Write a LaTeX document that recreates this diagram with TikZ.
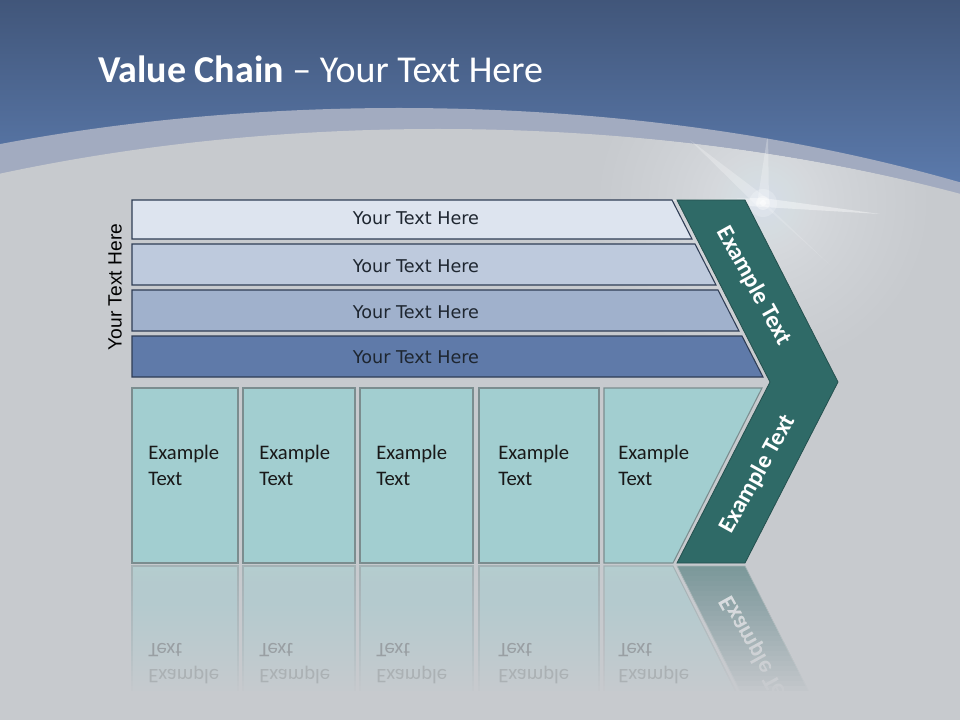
\documentclass[tikz,border=0pt]{standalone}
\usepackage{fontspec}
\setmainfont{Carlito}
\newfontfamily\djv{DejaVu Sans}
\newfontfamily\lib{Liberation Sans}
\definecolor{bgGrey}{HTML}{C7CACE}
\definecolor{blueTop}{HTML}{41567A}
\definecolor{blueBot}{HTML}{5D7DB0}
\definecolor{band}{HTML}{A2ABC0}
\definecolor{barA}{HTML}{DDE4EF}
\definecolor{barB}{HTML}{BECADD}
\definecolor{barC}{HTML}{A0B1CC}
\definecolor{barD}{HTML}{5F7AA9}
\definecolor{barline}{HTML}{2F3D55}
\definecolor{boxfill}{HTML}{A2CED0}
\definecolor{boxline}{HTML}{7B8D8F}
\definecolor{chev}{HTML}{2F6A67}
\definecolor{chevline}{HTML}{24504E}
\definecolor{reflbox}{HTML}{B4CED0}
\definecolor{reflline}{HTML}{A3B2B4}
\definecolor{reflchev}{HTML}{799898}
\definecolor{txtdark}{HTML}{1E2630}
\definecolor{refltA}{HTML}{999FA3}
\definecolor{refltB}{HTML}{ABB1B4}
\definecolor{glow}{HTML}{EEF5FF}
\tikzset{
  barshape/.style={draw=barline, line width=0.8pt},
  boxshape/.style={draw=boxline, line width=0.8pt, fill=boxfill},
  reflshape/.style={draw=reflline, line width=0.8pt, fill=reflbox},
  bartext/.style={anchor=base, inner sep=0, text=txtdark, font=\djv\fontsize{13.2}{16}\selectfont},
  boxtext/.style={anchor=base west, inner sep=0, align=left, text width=56pt, text=black!90, font=\fontsize{15.5}{19.5}\selectfont},
  chevtext/.style={inner sep=0, text=white, font=\bfseries\fontsize{18}{21}\selectfont},
  refltext/.style={anchor=base west, inner sep=0, font=\fontsize{15.5}{19.5}\selectfont},
}
\begin{document}
\begin{tikzpicture}[x=0.75pt,y=-0.75pt]
\useasboundingbox (0,0) rectangle (960,720);
\clip (0,0) rectangle (960,720);
% background
\shade[top color=blueTop, bottom color=blueBot] (0,0) rectangle (960,200);
\fill[band] (399,640) ellipse [x radius=1100, y radius=532];
\fill[bgGrey] (438,671) ellipse [x radius=1100, y radius=542];
% flare
\begin{scope}
\clip (438,671) ellipse [x radius=1100, y radius=542];
\foreach \k in {30,29,...,1} {
  \fill[glow, opacity=0.04] (763,203) circle ({3+160*(\k/30)^2});
}
\foreach \r/\o in {14/0.2,7/0.35,3/0.55}
  \fill[white, opacity=\o] (763,203) circle (\r);
\end{scope}
\begin{scope}
\clip (399,640) ellipse [x radius=1100, y radius=532];
\fill[white, opacity=0.4] (763,198) -- (880,214) -- (763,207) -- (660,200) -- cycle;
\fill[white, opacity=0.25] (757,206) -- (690,140) -- (768,199) -- cycle;
\fill[white, opacity=0.25] (757,204) -- (768,132) -- (769,204) -- cycle;
\fill[white, opacity=0.15] (758,200) -- (830,265) -- (768,206) -- cycle;
\end{scope}
% bars
\path[barshape, fill=barA] (132,200) -- (672,200) -- (692,239) -- (132,239) -- cycle;
\path[barshape, fill=barB] (132,244) -- (695,244) -- (716,285) -- (132,285) -- cycle;
\path[barshape, fill=barC] (132,290) -- (718,290) -- (739,331) -- (132,331) -- cycle;
\path[barshape, fill=barD] (132,336) -- (742,336) -- (763,377) -- (132,377) -- cycle;
\node[bartext] (t1) at (416,225) {Your Text Here};
\node[bartext] (t2) at (416,273) {Your Text Here};
\node[bartext] (t3) at (416,318) {Your Text Here};
\node[bartext] (t4) at (416,363) {Your Text Here};
% side label
\node[inner sep=0, rotate=90, font=\lib\fontsize{14.4}{17}\selectfont] (side) at (115,287) {Your Text Here};
% boxes
\path[boxshape] (132,388) rectangle (238,563);
\path[boxshape] (243,388) rectangle (355,563);
\path[boxshape] (360,388) rectangle (473,563);
\path[boxshape] (479,388) rectangle (599,563);
\path[boxshape] (604,388) -- (762,388) -- (673,563) -- (604,563) -- cycle;
\node[boxtext] (b1) at (148,459) {Example\\Text};
\node[boxtext] (b2) at (259,459) {Example\\Text};
\node[boxtext] (b3) at (376,459) {Example\\Text};
\node[boxtext] (b4) at (498,459) {Example\\Text};
\node[boxtext] (b5) at (618,459) {Example\\Text};
% chevron
\path[fill=chev, draw=chevline, line width=0.6pt] (677,200) -- (745,200) -- (838,382) -- (745,563) -- (677,563) -- (770,382) -- cycle;
\node[chevtext, rotate=-61] (c1) at (754,286) {Example Text};
\node[chevtext, rotate=61] (c2) at (758,474) {Example Text};
% reflections
\path[reflshape] (132,566) rectangle (238,720);
\path[reflshape] (243,566) rectangle (355,720);
\path[reflshape] (360,566) rectangle (473,720);
\path[reflshape] (479,566) rectangle (599,720);
\path[reflshape] (604,566) -- (673,566) -- (750,720) -- (604,720) -- cycle;
\path[fill=reflchev, draw=reflline, line width=0.5pt] (677,566) -- (745,566) -- (823,720) -- (755,720) -- cycle;
\node[chevtext, rotate=-61, opacity=0.8] (rc) at (758,655) {\scalebox{1}[-1]{Example Text}};
% fade overlay (cumulative strips)
\foreach \k in {1,...,26} {
  \pgfmathsetmacro\op{1/(27-\k)}
  \fill[bgGrey, opacity=\op] (125,{566+5*(\k-1)}) rectangle (860,720);
}
% reflected box texts
\foreach \x [count=\i] in {148,259,376,498,618} {
  \node[refltext, text=refltA] (rt\i) at (\x,643) {\scalebox{1}[-1]{Text}};
  \node[refltext, text=refltB] (re\i) at (\x,669) {\scalebox{1}[-1]{Example}};
}
% title
\node[anchor=base west, inner sep=0, text=white, font=\fontsize{28.5}{34}\selectfont] (title) at (98,83) {\textbf{Value Chain} – Your Text Here};
\end{tikzpicture}
\end{document}
